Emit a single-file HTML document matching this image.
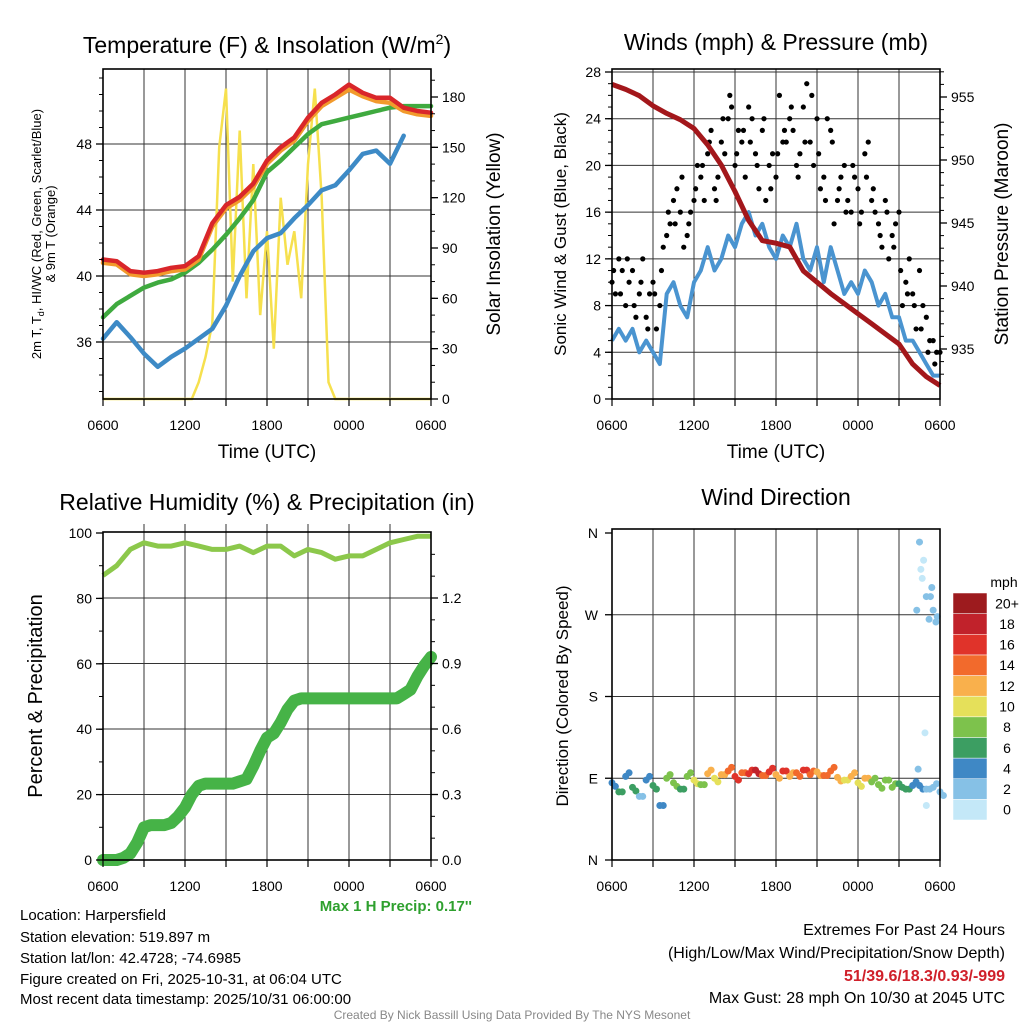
<!DOCTYPE html>
<html><head><meta charset="utf-8"><style>
html,body{margin:0;padding:0;background:#fff;}
svg text{font-family:"Liberation Sans",sans-serif;}
</style></head><body>
<svg id="fig" width="1024" height="1024" viewBox="0 0 1024 1024" xmlns="http://www.w3.org/2000/svg">
<rect width="1024" height="1024" fill="#fff"/>
<text x="267" y="53" font-size="23" text-anchor="middle">Temperature (F) &amp; Insolation (W/m<tspan dy="-9" font-size="14">2</tspan><tspan dy="9">)</tspan></text>
<text x="776" y="50" font-size="23" text-anchor="middle">Winds (mph) &amp; Pressure (mb)</text>
<text x="267" y="510" font-size="23" text-anchor="middle">Relative Humidity (%) &amp; Precipitation (in)</text>
<text x="776" y="505" font-size="23" text-anchor="middle">Wind Direction</text>

<text x="267" y="458" font-size="19" text-anchor="middle">Time (UTC)</text>
<text x="776" y="458" font-size="19" text-anchor="middle">Time (UTC)</text>
<text transform="translate(41,234) rotate(-90)" font-size="13" text-anchor="middle">2m T, T<tspan dy="3" font-size="9">d</tspan><tspan dy="-3">, HI/WC (Red, Green, Scarlet/Blue)</tspan></text>
<text transform="translate(55,234) rotate(-90)" font-size="13" text-anchor="middle">&amp; 9m T (Orange)</text>
<text transform="translate(500,234) rotate(-90)" font-size="19" text-anchor="middle">Solar Insolation (Yellow)</text>
<text transform="translate(566,234) rotate(-90)" font-size="17" text-anchor="middle">Sonic Wind &amp; Gust (Blue, Black)</text>
<text transform="translate(1008,234) rotate(-90)" font-size="19" text-anchor="middle">Station Pressure (Maroon)</text>
<text transform="translate(42,696) rotate(-90)" font-size="20" text-anchor="middle">Percent &amp; Precipitation</text>
<text transform="translate(568,696) rotate(-90)" font-size="17" text-anchor="middle">Direction (Colored By Speed)</text>

<text x="472" y="911" font-size="15" font-weight="bold" fill="#2ea02e" text-anchor="end">Max 1 H Precip: 0.17''</text>
<g font-size="15">
<text x="20" y="920">Location: Harpersfield</text>
<text x="20" y="942">Station elevation: 519.897 m</text>
<text x="20" y="963">Station lat/lon: 42.4728; -74.6985</text>
<text x="20" y="984">Figure created on Fri, 2025-10-31, at 06:04 UTC</text>
<text x="20" y="1004">Most recent data timestamp: 2025/10/31 06:00:00</text>
</g>
<g font-size="16" text-anchor="end">
<text x="1005" y="935">Extremes For Past 24 Hours</text>
<text x="1005" y="958">(High/Low/Max Wind/Precipitation/Snow Depth)</text>
<text x="1005" y="981" fill="#d0202a" font-weight="bold">51/39.6/18.3/0.93/-999</text>
<text x="1005" y="1003">Max Gust: 28 mph On 10/30 at 2045 UTC</text>
</g>
<text x="512" y="1019" font-size="12" fill="#888" text-anchor="middle">Created By Nick Bassill Using Data Provided By The NYS Mesonet</text>
</svg>
<script>
// ---------- DATA ----------
const xTickLabels = ["0600","1200","1800","0000","0600"];
const tempRed = [41,40.9,40.3,40.2,40.3,40.5,40.6,41.2,43.2,44.3,44.8,45.6,47,47.8,48.4,49.6,50.5,51,51.6,51.1,50.8,50.8,50.2,50,49.9];
const tempOrange = [40.8,40.7,40.1,40.0,40.1,40.3,40.4,41.0,43.0,44.1,44.6,45.4,46.8,47.6,48.2,49.4,50.3,50.8,51.3,50.9,50.6,50.5,50.0,49.8,49.7];
const dewGreen = [37.5,38.3,38.8,39.3,39.6,39.8,40.2,40.8,41.6,42.5,43.5,44.6,46.3,47,47.8,48.6,49.2,49.4,49.6,49.8,50,50.2,50.3,50.3,50.3];
const chillBlue = [36.2,37.2,36.3,35.3,34.5,35.1,35.6,36.2,36.8,38.2,40,41.5,42.3,42.6,43.5,44.3,45.2,45.5,46.4,47.4,47.6,46.8,48.5];
const insolation = [0,0,0,0,0,0,0,0,0,0,0,0,0,0,10,25,45,150,185,70,160,60,140,50,100,30,120,80,100,60,140,185,120,10,0,0,0,0,0,0,0,0,0,0,0,0,0,0,0];
const tempTicks = [36,40,44,48];
const insolTicks = [0,30,60,90,120,150,180];

const sonicWind = [5,6,5,6,4,5,4,3,9,10,8,7,10,11,13,11,12,14,13,15,16,14,15,13,12,14,13,15,12,11,13,10,13,11,9,10,9,11,10,8,9,7,7,5,5,4,3,2,2];
const gust = [10,12,8,11,9,7,10,8,14,17,16,14,17,19,21,18,22,24,20,22,25,21,23,20,19,22,24,20,25,22,24,19,23,17,20,16,18,21,17,15,17,14,16,10,9,11,7,5,4];
const gust2 = [9,11,10,7,12,9,6,13,15,18,13,16,20,17,23,19,21,25,23,19,24,18,17,21,26,22,23,21,27,20,18,24,15,19,17,19,16,22,16,13,12,15,8,12,6,8,5,4];
const gust3 = [11,9,12,8,10,6,9,11,16,15,19,15,18,20,22,17,24,26,21,23,22,20,24,18,21,23,25,19,22,26,21,17,22,18,16,20,15,19,18,14,16,13,11,9,8,6,4,3];
const pressure = [956,955.6,955.1,954.3,953.7,953.2,952.5,951.2,949.6,947.5,945.2,943.6,943.4,943.1,941.2,940.3,939.4,938.6,937.8,937,936.2,935.4,933.8,932.8,932.1];
const windTicks = [0,4,8,12,16,20,24,28];
const presTicks = [935,940,945,950,955];

const rh = [87,90,95,97,96,96,97,96,95,95,96,94,96,96,93,95,94,92,93,93,95,97,98,99,99];
const precip = [0,0,0,0.01,0.03,0.08,0.15,0.16,0.16,0.16,0.17,0.2,0.24,0.3,0.34,0.35,0.35,0.35,0.35,0.35,0.36,0.37,0.43,0.5,0.56,0.58,0.63,0.69,0.73,0.74,0.74,0.74,0.74,0.74,0.74,0.74,0.74,0.74,0.74,0.74,0.74,0.74,0.74,0.74,0.76,0.78,0.84,0.89,0.93];
const rhTicks = [0,20,40,60,80,100];
const precipTicks = [0,0.3,0.6,0.9,1.2];

const dirs = [85,75,92,80,70,88,82,60,90,85,78,92,88,83,95,90,94,98,92,96,95,99,93,97,94,98,92,96,99,94,97,93,98,91,88,92,85,90,86,83,88,80,84,78,82,82,78,80,75];
const dirSpeeds = [4,6,5,7,3,4,6,4,8,8,6,9,10,8,12,11,13,15,16,14,17,18,15,16,13,17,12,14,16,15,13,15,14,12,11,13,10,12,8,9,8,9,7,6,5,4,3,2,2];
const extraTimes = [22.3,22.5,22.6,22.8,23.0,23.2,23.5,23.7,22.9,23.0,22.4,23.3,23.8,22.7,23.4];
const extraDirs = [275,350,320,330,290,265,275,262,140,60,100,290,268,310,300];
const extraSpeeds = [3,2,1,1,2,3,2,3,1,1,2,2,2,1,2];
const dirTickLabels = ["N","E","S","W","N"];
const colorLabels = ["0","2","4","6","8","10","12","14","16","18","20+"];
const colorBins = ["#c4e8f8","#86c1e6","#3f88c5","#3c9e62","#7dc24c","#e5e05a","#f9b04c","#f26a2c","#e0332a","#c1222b","#9d1b1e"];

// ---------- HELPERS ----------
const NS="http://www.w3.org/2000/svg";
const svg=document.getElementById('fig');
function mk(tag,attrs,parent){const e=document.createElementNS(NS,tag);for(const k in attrs)e.setAttribute(k,attrs[k]);(parent||svg).appendChild(e);return e;}
function xScale(x0){return h=>x0+h*328/24;}
function lin(d0,d1,r0,r1){return v=>r0+(v-d0)*(r1-r0)/(d1-d0);}
function pathFrom(vals,xs,ys,step){return vals.map((v,i)=>(i?'L':'M')+xs(i*step).toFixed(1)+','+ys(v).toFixed(1)).join('');}
function colorFor(s){let i=Math.floor(s/2);if(i>10)i=10;if(i<0)i=0;return colorBins[i];}

function frame(name){
  const g=mk('g',{});
  
  
  return g;
}
function vGrid(g,x0,y0,y1){
  const xs=xScale(x0);
  for(let hh=3;hh<24;hh+=3){mk('line',{x1:xs(hh),x2:xs(hh),y1:y0,y2:y1,stroke:'#333','stroke-width':1},g);}
}
function xAxis(g,x0,y1){
  const xs=xScale(x0);
  for(let hh=0;hh<=24;hh+=3){mk('line',{x1:xs(hh),x2:xs(hh),y1:y1,y2:y1+7,stroke:'#000','stroke-width':1.2},g);}
  xTickLabels.forEach((l,i)=>{
    const t=mk('text',{x:xs(i*6),y:y1+31,'font-size':14,'text-anchor':'middle'},g);
    
    
    t.textContent=l;
  });
}
function yTicks(g,ticks,ys,x,side,fmt,minorStep,dmin,dmax){
  ticks.forEach(v=>{
    const y=ys(v);
    mk('line',{x1:x,x2:x+side*7,y1:y,y2:y,stroke:'#000','stroke-width':1.3},g);
    const t=mk('text',{x:x+side*11,y:y+5,'font-size':14,'text-anchor':side<0?'end':'start'},g);
    
    
    t.textContent=fmt(v);
  });
  if(minorStep){for(let v=dmin;v<=dmax+1e-9;v+=minorStep){mk('line',{x1:x,x2:x+side*4,y1:ys(v),y2:ys(v),stroke:'#000'},g);}}
}

// ---------- PANEL 1 ----------
(function(){
  const X0=103,X1=431,Y0=69,Y1=399;
  const g=frame('temperature-chart');
  const xs=xScale(X0);
  const yT=lin(36,48,342,144);
  const yS=lin(0,180,399,97);
  tempTicks.forEach(v=>mk('line',{x1:X0,x2:X1,y1:yT(v),y2:yT(v),stroke:'#333','stroke-width':1},g));
  vGrid(g,X0,Y0,Y1);
  const ins=mk('path',{d:pathFrom(insolation,xs,yS,0.5),fill:'none',stroke:'#f6e04e','stroke-width':2.5},g);
  
  
  const series=[[chillBlue,'#3d8ac6','wind-chill-line'],[dewGreen,'#3faa3f','dewpoint-line'],[tempOrange,'#f29a2c','temp-9m-line'],[tempRed,'#d9262a','temp-2m-line']];
  series.forEach(s=>{
    const p=mk('path',{d:pathFrom(s[0],xs,yT,1),fill:'none',stroke:s[1],'stroke-width':4.5,'stroke-linejoin':'round','stroke-linecap':'round'},g);
    
    
  });
  mk('rect',{x:X0,y:Y0,width:X1-X0,height:Y1-Y0,fill:'none',stroke:'#000','stroke-width':1.6},g);
  xAxis(g,X0,Y1);
  yTicks(g,tempTicks,yT,X0,-1,v=>v,1,33,52);
  yTicks(g,insolTicks,yS,X1,1,v=>v,10,0,190);
})();

// ---------- PANEL 2 ----------
(function(){
  const X0=612,X1=940,Y0=69,Y1=399;
  const g=frame('wind-pressure-chart');
  const xs=xScale(X0);
  const yW=lin(0,28,399,72);
  const yP=lin(935,955,349,97);
  windTicks.forEach(v=>mk('line',{x1:X0,x2:X1,y1:yW(v),y2:yW(v),stroke:'#333','stroke-width':1},g));
  vGrid(g,X0,Y0,Y1);
  const sw=mk('path',{d:pathFrom(sonicWind,xs,yW,0.5),fill:'none',stroke:'#4a94d0','stroke-width':4,'stroke-linejoin':'round'},g);
  
  
  gust.forEach((v,i)=>{
    const c=mk('circle',{cx:xs(i*0.5),cy:yW(v),r:2.6,fill:'#000'},g);
    
    
  });
  gust2.forEach((v,i)=>{
    const c=mk('circle',{cx:xs(0.25+i*0.5),cy:yW(v),r:2.6,fill:'#000'},g);
    
    
  });
  gust3.forEach((v,i)=>{
    const c=mk('circle',{cx:xs(0.12+i*0.5),cy:yW(v),r:2.6,fill:'#000'},g);
    
    
  });
  const pp=mk('path',{d:pathFrom(pressure,xs,yP,1),fill:'none',stroke:'#a3171b','stroke-width':5,'stroke-linejoin':'round'},g);
  
  
  mk('rect',{x:X0,y:Y0,width:X1-X0,height:Y1-Y0,fill:'none',stroke:'#000','stroke-width':1.6},g);
  xAxis(g,X0,Y1);
  yTicks(g,windTicks,yW,X0,-1,v=>v,1,0,28);
  yTicks(g,presTicks,yP,X1,1,v=>v,1,933,957);
})();

// ---------- PANEL 3 ----------
(function(){
  const X0=103,X1=431,Y0=532,Y1=860;
  const g=frame('rh-precip-chart');
  const xs=xScale(X0);
  const yR=lin(0,100,860,533);
  const yPr=lin(0,1.2,860,598);
  precipTicks.forEach(v=>mk('line',{x1:X0,x2:X1,y1:yPr(v),y2:yPr(v),stroke:'#333','stroke-width':1},g));
  vGrid(g,X0,Y0-8,Y1);
  const r=mk('path',{d:pathFrom(rh,xs,yR,1),fill:'none',stroke:'#8cc84b','stroke-width':5,'stroke-linejoin':'round'},g);
  
  
  const p=mk('path',{d:pathFrom(precip,xs,yPr,0.5),fill:'none',stroke:'#46b347','stroke-width':12,'stroke-linejoin':'round','stroke-linecap':'round'},g);
  
  
  mk('rect',{x:X0,y:Y0,width:X1-X0,height:Y1-Y0,fill:'none',stroke:'#000','stroke-width':1.6},g);
  xAxis(g,X0,Y1);
  yTicks(g,rhTicks,yR,X0,-1,v=>v,10,0,100);
  yTicks(g,precipTicks,yPr,X1,1,v=>v.toFixed(1),0.1,0,1.4);
})();

// ---------- PANEL 4 ----------
(function(){
  const X0=612,X1=940,Y0=529,Y1=860;
  const g=frame('wind-direction-chart');
  const xs=xScale(X0);
  const yD=lin(0,360,860,533);
  [90,180,270].forEach(v=>mk('line',{x1:X0,x2:X1,y1:yD(v),y2:yD(v),stroke:'#333','stroke-width':1},g));
  vGrid(g,X0,Y0,Y1);
  dirs.forEach((d,i)=>{
    const c=mk('circle',{cx:xs(i*0.5),cy:yD(d),r:3.5,fill:colorFor(dirSpeeds[i])},g);
    
    
    const c2=mk('circle',{cx:xs(i*0.5+0.25),cy:yD(d+((i%3)-1)*4),r:3.5,fill:colorFor(dirSpeeds[i])},g);
    
    
  });
  extraDirs.forEach((d,i)=>{
    const c=mk('circle',{cx:xs(extraTimes[i]),cy:yD(d),r:3.5,fill:colorFor(extraSpeeds[i])},g);
    
    
  });
  mk('rect',{x:X0,y:Y0,width:X1-X0,height:Y1-Y0,fill:'none',stroke:'#000','stroke-width':1.6},g);
  xAxis(g,X0,Y1);
  dirTickLabels.forEach((l,i)=>{
    const y=yD(i*90);
    mk('line',{x1:X0,x2:X0-7,y1:y,y2:y,stroke:'#000','stroke-width':1.3},g);
    const t=mk('text',{x:X0-14,y:y+5,'font-size':14,'text-anchor':'end'},g);
    
    
    t.textContent=l;
  });
  const cb=mk('g',{},svg);
  
  
  const top=593,bot=820,seg=(bot-top)/colorBins.length;
  colorBins.forEach((c,i)=>{
    const y=bot-(i+1)*seg;
    mk('rect',{x:953,y:y,width:34,height:seg,fill:c,stroke:'#fff','stroke-width':0.5},cb);
    const t=mk('text',{x:1007,y:y+seg/2+5,'font-size':14,'text-anchor':'middle'},cb);
    
    
    t.textContent=colorLabels[i];
  });
  const u=mk('text',{x:1004,y:587,'font-size':14,'text-anchor':'middle'},cb);
  
  
  u.textContent='mph';
})();
</script>
</body></html>
